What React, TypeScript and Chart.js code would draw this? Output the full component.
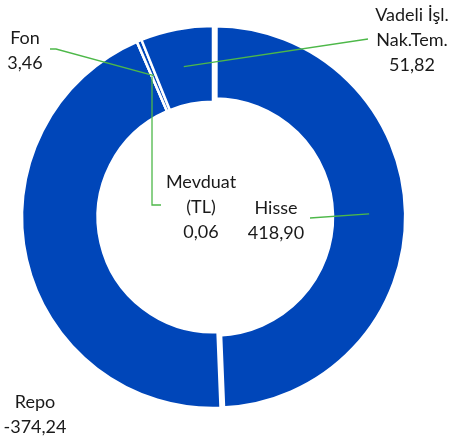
import React, { useEffect, useRef } from "react";
import { Chart, registerables } from "chart.js";

Chart.register(...registerables);

// Data
const categories = ["Hisse", "Repo", "Mevduat (TL)", "Fon", "Vadeli İşl. Nak.Tem."];
const values = [418.9, -374.24, 0.06, 3.46, 51.82];
const labelTitles = [["Hisse"], ["Repo"], ["Mevduat", "(TL)"], ["Fon"], ["Vadeli İşl.", "Nak.Tem."]];

// Layout of the data labels (pixel positions of text blocks)
const labelBoxes = [
  { x: 276, y: 208 },
  { x: 35, y: 402 },
  { x: 201, y: 182 },
  { x: 25, y: 38 },
  { x: 412, y: 15 },
];
const LINE_H = 25;
const BLUE = "#0046B9";
const GREEN = "#4DB849";

const fmt = (v: number) => v.toFixed(2).replace(".", ",");

const labelPlugin = {
  id: "donutLabels",
  afterDatasetsDraw(chart: any) {
    const ctx = chart.ctx as CanvasRenderingContext2D;
    const meta = chart.getDatasetMeta(0);
    const cp = (i: number) => meta.data[i].getCenterPoint();
    ctx.save();
    // leader lines
    ctx.strokeStyle = GREEN;
    ctx.lineWidth = 1.3;
    const poly = (pts: { x: number; y: number }[]) => {
      ctx.beginPath();
      ctx.moveTo(pts[0].x, pts[0].y);
      for (let k = 1; k < pts.length; k++) ctx.lineTo(pts[k].x, pts[k].y);
      ctx.stroke();
    };
    const h = cp(0);
    poly([{ x: 310, y: 218 }, h]);
    const v = cp(4);
    poly([{ x: 368, y: 39 }, v]);
    const f = cp(3);
    poly([{ x: 50, y: 49 }, { x: 56, y: 49 }, f]);
    const m = cp(2);
    poly([{ x: 161, y: 205 }, { x: m.x, y: 205 }, { x: m.x, y: m.y }]);

    // texts
    ctx.fillStyle = "#1a1a1a";
    ctx.font = "18px Lato";
    ctx.textAlign = "center";
    ctx.textBaseline = "middle";
    categories.forEach((_, i) => {
      const lines = [...labelTitles[i], fmt(values[i])];
      const b = labelBoxes[i];
      lines.forEach((t, j) => ctx.fillText(t, b.x, b.y + j * LINE_H));
    });
    ctx.restore();
  },
};

export default function App() {
  const ref = useRef<HTMLCanvasElement>(null);
  useEffect(() => {
    if (!ref.current) return;
    const chart = new Chart(ref.current, {
      type: "doughnut",
      data: {
        labels: categories,
        datasets: [
          {
            data: values,
            backgroundColor: BLUE,
            borderColor: "#ffffff",
            borderWidth: [6, 2.5, 2.5, 2.5, 2.5],
            offset: [6, 0, 0, 0, 0],
          },
        ],
      },
      options: {
        animation: false,
        responsive: true,
        maintainAspectRatio: false,
        radius: 191,
        cutout: 125,
        layout: { padding: { left: 0, right: 26, top: 0, bottom: 12 } },
        plugins: { legend: { display: false }, tooltip: { enabled: false } },
      },
      plugins: [labelPlugin],
    } as any);
    return () => chart.destroy();
  }, []);
  return (
    <div style={{ position: "absolute", left: 0, top: 0, width: 452, height: 446, background: "#fff" }}>
      <canvas ref={ref} />
    </div>
  );
}
